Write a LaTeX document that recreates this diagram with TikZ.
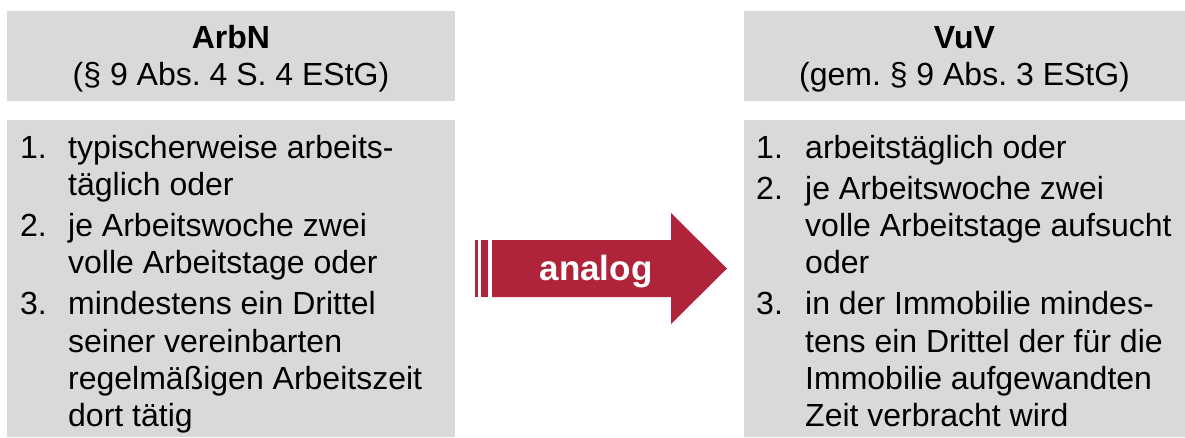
\documentclass[tikz,border=0pt]{standalone}
\usepackage{fontspec}
\setmainfont{Liberation Sans}
\frenchspacing
\definecolor{boxgray}{RGB}{217,217,219}
\definecolor{arrowred}{RGB}{175,35,59}
\tikzset{
  panel/.style={fill=boxgray, draw=none},
  bodytxt/.style={anchor=north west, inner sep=0pt, align=left, font=\fontsize{32}{37.3}\selectfont},
  headtxt/.style={anchor=north, inner sep=0pt, align=center, font=\fontsize{32}{37}\selectfont},
  arrowtxt/.style={anchor=base, inner sep=0pt, text=white, font=\fontsize{35}{40}\selectfont\bfseries},
  arrowfill/.style={fill=arrowred, draw=none}
}
\begin{document}
\begin{tikzpicture}[x=1pt,y=-1pt]
\useasboundingbox (0,0) rectangle (1185,437);
% panels
\fill[panel] (7,11) rectangle (455,101);
\fill[panel] (7,120) rectangle (455,437);
\fill[panel] (744,11) rectangle (1185,101);
\fill[panel] (744,120) rectangle (1185,437);
% headers
\node[headtxt] (hl) at (231,22.1) {\strut\textbf{ArbN}\\(§ 9 Abs. 4 S. 4 EStG)};
\node[headtxt] (hr) at (964.5,22.1) {\strut\textbf{VuV}\\(gem. § 9 Abs. 3 EStG)};
% left list
\node[bodytxt] (ln1) at (20,131.9) {\strut 1.};
\node[bodytxt] (lt1) at (68,131.9) {\strut typischerweise arbeits-\\täglich oder};
\node[bodytxt] (ln2) at (20,210.2) {\strut 2.};
\node[bodytxt] (lt2) at (68,210.2) {\strut je Arbeitswoche zwei\\volle Arbeitstage oder};
\node[bodytxt] (ln3) at (20,288.5) {\strut 3.};
\node[bodytxt] (lt3) at (68,288.5) {\strut mindestens ein Drittel\\seiner vereinbarten\\regelmäßigen Arbeitszeit\\dort tätig};
% right list
\node[bodytxt] (rn1) at (756,131.9) {\strut 1.};
\node[bodytxt] (rt1) at (805,131.9) {\strut arbeitstäglich oder};
\node[bodytxt] (rn2) at (756,172.9) {\strut 2.};
\node[bodytxt] (rt2) at (805,172.9) {\strut je Arbeitswoche zwei\\volle Arbeitstage aufsucht\\oder};
\node[bodytxt] (rn3) at (756,288.5) {\strut 3.};
\node[bodytxt] (rt3) at (805,288.5) {\strut in der Immobilie mindes-\\tens ein Drittel der für die\\Immobilie aufgewandten\\Zeit verbracht wird};
% arrow
\fill[arrowfill] (475,240) rectangle (478,297);
\fill[arrowfill] (481,240) rectangle (488,297);
\fill[arrowfill] (492,240) -- (671,240) -- (671,213) -- (727,268.5) -- (671,324) -- (671,297) -- (492,297) -- cycle;
\node[arrowtxt] (an) at (596,280) {analog};
\end{tikzpicture}
\end{document}
